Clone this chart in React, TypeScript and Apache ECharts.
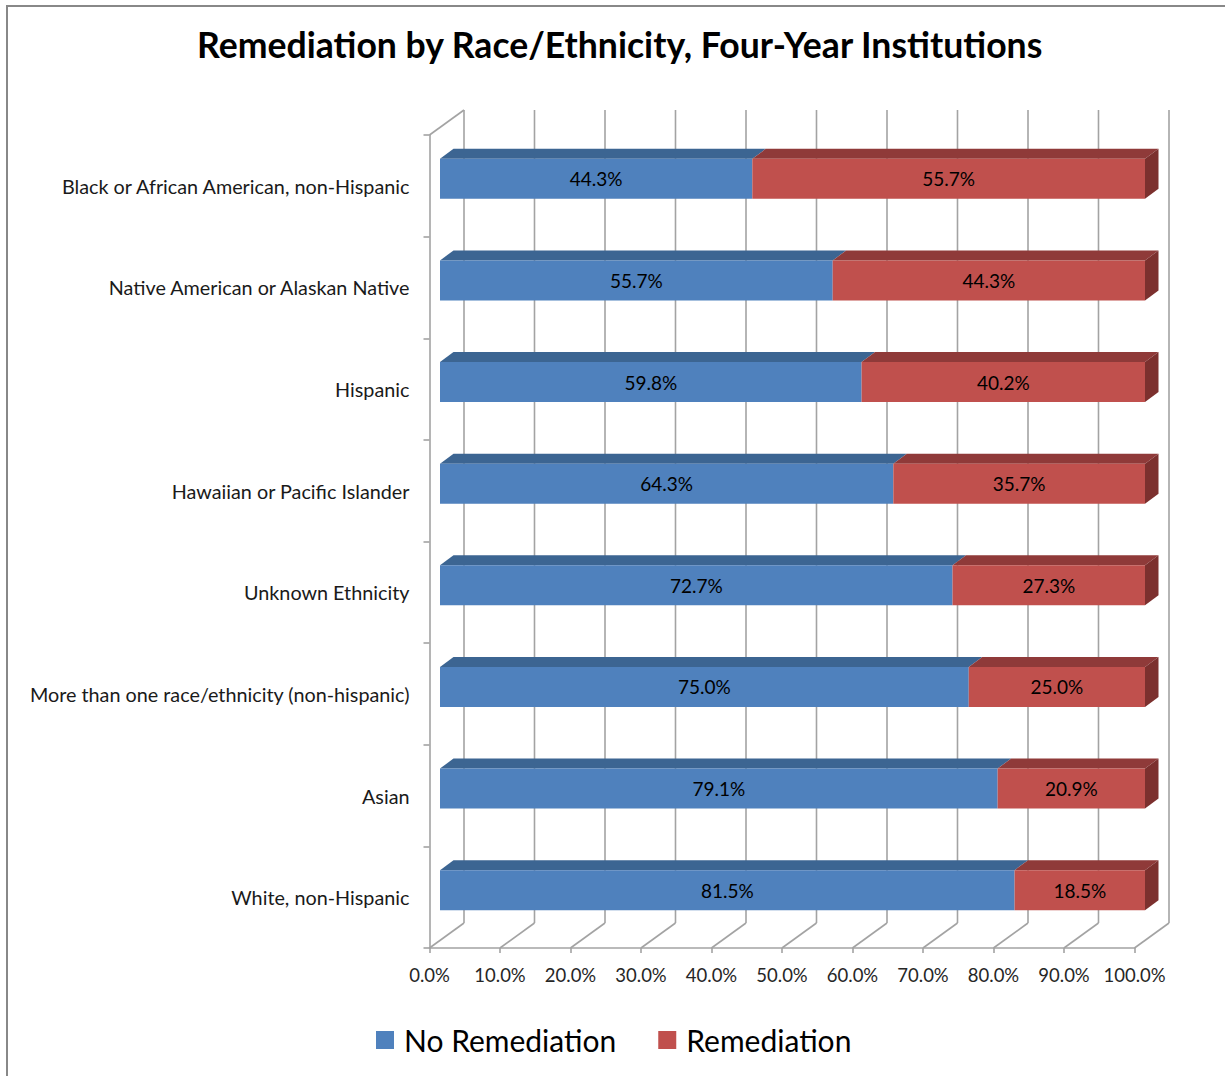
import React, { useEffect, useRef } from "react";
import * as echarts from "echarts";

const categories = [
  "Black or African American, non-Hispanic",
  "Native American or Alaskan Native",
  "Hispanic",
  "Hawaiian or Pacific Islander",
  "Unknown Ethnicity",
  "More than one race/ethnicity (non-hispanic)",
  "Asian",
  "White, non-Hispanic",
];
const noRemediation = [44.3, 55.7, 59.8, 64.3, 72.7, 75.0, 79.1, 81.5];
const remediation = [55.7, 44.3, 40.2, 35.7, 27.3, 25.0, 20.9, 18.5];
const xTicks = [0, 10, 20, 30, 40, 50, 60, 70, 80, 90, 100];
const seriesNames = ["No Remediation", "Remediation"];
const titleText = "Remediation by Race/Ethnicity, Four-Year Institutions";

const FONT = "Lato, 'Open Sans', sans-serif";
const colors = {
  blue: { front: "#4F81BD", top: "#3C6592", side: "#2F507A" },
  red: { front: "#C0504D", top: "#8F3A39", side: "#7C302E" },
};
// 3D geometry (px)
const FX = 10.5;
const FY = -7;
const DX = 13.5;
const DY = 10;
const WX = 34.5;
const WY = 25;
const GRID_COLOR = "#a3a3a3";

function makeBarRender(pal: { front: string; top: string; side: string }, drawSide: boolean) {
  return (params: any, api: any) => {
    const cat = api.value(0);
    const a = api.coord([api.value(1), cat]);
    const b = api.coord([api.value(2), cat]);
    const band = api.size([0, 1])[1];
    const h = band * 0.394;
    const x0 = a[0] + FX;
    const x1 = b[0] + FX;
    const yc = a[1] + FY;
    const y0 = yc - h / 2;
    const y1 = yc + h / 2;
    const children: any[] = [
      {
        type: "polygon",
        shape: { points: [[x0, y0], [x1, y0], [x1 + DX, y0 - DY], [x0 + DX, y0 - DY]] },
        style: { fill: pal.top },
      },
      {
        type: "rect",
        shape: { x: x0, y: y0, width: x1 - x0, height: h },
        style: { fill: pal.front },
      },
    ];
    if (drawSide) {
      children.push({
        type: "polygon",
        shape: { points: [[x1, y0], [x1 + DX, y0 - DY], [x1 + DX, y1 - DY], [x1, y1]] },
        style: { fill: pal.side },
      });
    }
    children.push({
      type: "text",
      x: (x0 + x1) / 2,
      y: yc,
      style: {
        text: Number(api.value(3)).toFixed(1) + "%",
        fill: "#000",
        fontSize: 19,
        fontFamily: FONT,
        align: "center",
        verticalAlign: "middle",
      },
    });
    return { type: "group", children };
  };
}

function wallRender(params: any, api: any) {
  const v = api.value(0);
  const p = api.coord([v, 0]);
  const x = p[0];
  const cs = params.coordSys;
  const top = cs.y;
  const bottom = cs.y + cs.height;
  const st = { stroke: GRID_COLOR, lineWidth: 1.6 };
  const children: any[] = [
    { type: "line", shape: { x1: x + WX, y1: top - WY, x2: x + WX, y2: bottom - WY }, style: st },
    { type: "line", shape: { x1: x, y1: bottom, x2: x + WX, y2: bottom - WY }, style: st },
  ];
  if (v === 0) {
    children.push({ type: "line", shape: { x1: x, y1: top, x2: x + WX, y2: top - WY }, style: st });
  }
  return { type: "group", children };
}

export default function App() {
  const ref = useRef<HTMLDivElement>(null);
  useEffect(() => {
    if (!ref.current) return;
    const chart = echarts.init(ref.current, undefined, { renderer: "svg" });
    const option: any = {
      animation: false,
      backgroundColor: "#fff",
      title: {
        text: titleText,
        left: 197,
        top: 26,
        padding: 0,
        textStyle: { fontFamily: FONT, fontWeight: "bold", fontSize: 35.6, color: "#000" },
      },
      legend: {
        data: seriesNames,
        left: 376,
        top: 1025,
        padding: 0,
        itemWidth: 18,
        itemHeight: 18,
        itemGap: 42,
        icon: "rect",
        textStyle: { fontFamily: FONT, fontSize: 30, color: "#000", padding: [0, 0, 0, 5] },
      },
      graphic: [
        {
          type: "rect",
          silent: true,
          shape: { x: 7, y: 6, width: 1400, height: 1300 },
          style: { fill: "none", stroke: "#888", lineWidth: 2 },
        },
      ],
      grid: { left: 429.5, right: 90.5, top: 135, bottom: 128, containLabel: false },
      xAxis: {
        type: "value",
        min: 0,
        max: 100,
        interval: 10,
        axisLine: { show: true, lineStyle: { color: GRID_COLOR, width: 1.6 } },
        axisTick: { show: true, length: 5, lineStyle: { color: GRID_COLOR, width: 1.6 } },
        splitLine: { show: false },
        axisLabel: {
          formatter: (v: number) => v.toFixed(1) + "%",
          fontFamily: FONT,
          fontSize: 18.5,
          color: "#262626",
          margin: 17,
        },
      },
      yAxis: {
        type: "category",
        inverse: true,
        data: categories,
        axisLine: { show: true, lineStyle: { color: GRID_COLOR, width: 1.6 } },
        axisTick: { show: true, length: 6, lineStyle: { color: GRID_COLOR, width: 1.6 } },
        splitLine: { show: false },
        axisLabel: { fontFamily: FONT, fontSize: 19.8, color: "#1a1a1a", margin: 20 },
      },
      series: [
        {
          type: "custom",
          silent: true,
          z: 1,
          renderItem: wallRender,
          encode: { x: 0, y: 1 },
          data: xTicks.map((v) => [v, 0]),
        },
        {
          type: "custom",
          name: seriesNames[0],
          z: 2,
          itemStyle: { color: colors.blue.front },
          renderItem: makeBarRender(colors.blue, false),
          encode: { x: [1, 2], y: 0 },
          data: categories.map((c, i) => [i, 0, noRemediation[i], noRemediation[i]]),
        },
        {
          type: "custom",
          name: seriesNames[1],
          z: 3,
          itemStyle: { color: colors.red.front },
          renderItem: makeBarRender(colors.red, true),
          encode: { x: [1, 2], y: 0 },
          data: categories.map((c, i) => [
            i,
            noRemediation[i],
            noRemediation[i] + remediation[i],
            remediation[i],
          ]),
        },
      ],
    };
    chart.setOption(option);
    return () => chart.dispose();
  }, []);
  return (
    <div
      ref={ref}
      style={{ position: "absolute", left: 0, top: 0, width: 1225, height: 1076, background: "#fff" }}
    />
  );
}
